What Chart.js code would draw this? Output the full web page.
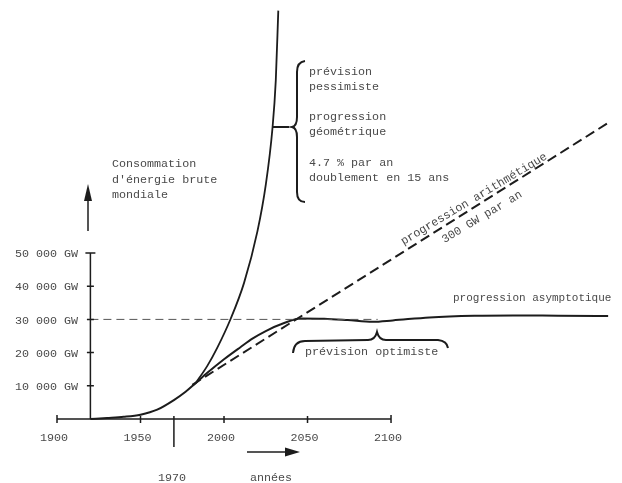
<!DOCTYPE html>
<html>
<head>
<meta charset="utf-8">
<script src="https://cdn.jsdelivr.net/npm/chart.js@4/dist/chart.umd.min.js"></script>
<style>
  html, body { margin: 0; padding: 0; background: #fff; }
  canvas { display: block; }
</style>
</head>
<body>
<canvas id="chart" width="622" height="483"></canvas>
<script>
// ===== Data =====
const commonYears = [1920, 1930, 1940, 1950, 1960, 1970, 1977, 1983];
const commonValues = [0, 300, 650, 1300, 2800, 5700, 8200, 10800];

// prévision pessimiste : progression géométrique
const pessYears = [1983, 1990, 1996, 2004, 2012, 2020, 2025, 2029, 2031, 2032.5];
const pessValues = [10800, 16000, 21500, 30200, 41000, 56500, 70500, 87500, 102000, 123000];

// progression asymptotique (prévision optimiste)
const asymYears = [1983, 1990, 2000, 2010, 2017, 2025, 2036, 2046, 2060, 2074, 2089, 2101, 2123, 2150, 2173, 2200, 2230];
const asymValues = [10800, 13900, 18000, 21700, 24200, 26500, 28900, 30300, 30200, 29800, 29300, 29700, 30600, 31100, 31200, 31100, 31000];

// progression arithmétique : 300 GW par an
const arithYears = [1981, 2231];
const arithValues = [10300, 89500];

// niveau de référence 30 000 GW
const refYears = [1920, 2092];
const refValues = [30000, 30000];

const xTicks = [1900, 1950, 2000, 2050, 2100];
const xTickLabels = ['1900', '1950', '2000', '2050', '2100'];
const yTicks = [10000, 20000, 30000, 40000, 50000];
const yTickLabels = ['10 000 GW', '20 000 GW', '30 000 GW', '40 000 GW', '50 000 GW'];
const axisYear = 1920;
const markYear = 1970;

const INK = '#1c1c1c';
const TEXT = '#4a4a4a';
const FONT = '11.7px "Liberation Mono", "DejaVu Sans Mono", monospace';

const toPoints = (xs, ys) => xs.map((x, i) => ({ x: x, y: ys[i] }));

// ===== Axes, braces and labels drawn on top =====
const figurePlugin = {
  id: 'figure',
  afterDatasetsDraw(chart) {
    const ctx = chart.ctx;
    const sx = chart.scales.x, sy = chart.scales.y;
    const px = v => sx.getPixelForValue(v);
    const py = v => sy.getPixelForValue(v);
    const x0 = px(axisYear), y0 = py(0);

    ctx.save();
    ctx.strokeStyle = INK;
    ctx.fillStyle = INK;
    ctx.lineWidth = 1.5;
    ctx.lineCap = 'butt';

    // x axis
    ctx.beginPath();
    ctx.moveTo(px(xTicks[0]), y0);
    ctx.lineTo(px(xTicks[xTicks.length - 1]), y0);
    xTicks.forEach((t, i) => {
      const end = i === 0 || i === xTicks.length - 1;
      ctx.moveTo(px(t), y0 - (end ? 4 : 3));
      ctx.lineTo(px(t), y0 + 4);
    });
    // 1970 mark
    ctx.moveTo(px(markYear), y0 - 3);
    ctx.lineTo(px(markYear), y0 + 28);
    ctx.stroke();

    // y axis
    ctx.beginPath();
    ctx.moveTo(x0, y0);
    ctx.lineTo(x0, py(yTicks[yTicks.length - 1]));
    yTicks.forEach((t, i) => {
      const w = i === yTicks.length - 1 ? 5 : 3.5;
      ctx.moveTo(x0 - w, py(t));
      ctx.lineTo(x0 + w, py(t));
    });
    ctx.stroke();

    // tick labels
    ctx.fillStyle = TEXT;
    ctx.font = FONT;
    ctx.textBaseline = 'middle';
    ctx.textAlign = 'center';
    xTicks.forEach((t, i) => ctx.fillText(xTickLabels[i], px(t) - 3, y0 + 19));
    ctx.textAlign = 'right';
    yTicks.forEach((t, i) => ctx.fillText(yTickLabels[i], 78, py(t) + 1));

    ctx.textAlign = 'center';
    ctx.fillText('1970', px(markYear) - 2, 478);
    ctx.fillText('années', 271, 478);

    // arrow "années"
    ctx.strokeStyle = INK;
    ctx.fillStyle = INK;
    ctx.lineWidth = 1.5;
    ctx.beginPath();
    ctx.moveTo(247, 452);
    ctx.lineTo(288, 452);
    ctx.stroke();
    ctx.beginPath();
    ctx.moveTo(300, 452);
    ctx.lineTo(285, 447.5);
    ctx.lineTo(285, 456.5);
    ctx.closePath();
    ctx.fill();

    // arrow y label
    ctx.beginPath();
    ctx.moveTo(88, 231);
    ctx.lineTo(88, 196);
    ctx.stroke();
    ctx.beginPath();
    ctx.moveTo(88, 184);
    ctx.lineTo(84, 201);
    ctx.lineTo(92, 201);
    ctx.closePath();
    ctx.fill();

    // y title
    ctx.fillStyle = TEXT;
    ctx.textAlign = 'left';
    ['Consommation', "d'énergie brute", 'mondiale'].forEach((s, i) =>
      ctx.fillText(s, 112, 164 + i * 15.5));

    // pessimiste brace + pointer
    ctx.strokeStyle = INK;
    ctx.lineWidth = 2;
    ctx.beginPath();
    ctx.moveTo(273, 127);
    ctx.lineTo(289, 127);
    ctx.stroke();
    ctx.beginPath();
    ctx.moveTo(305, 61);
    ctx.quadraticCurveTo(297, 62, 297, 72);
    ctx.lineTo(297, 117);
    ctx.quadraticCurveTo(297, 126, 292, 127);
    ctx.quadraticCurveTo(297, 128, 297, 137);
    ctx.lineTo(297, 192);
    ctx.quadraticCurveTo(297, 202, 305, 202);
    ctx.stroke();

    ctx.fillStyle = TEXT;
    const pessLines = [
      ['prévision', 72], ['pessimiste', 87],
      ['progression', 117], ['géométrique', 132],
      ['4.7 % par an', 163], ['doublement en 15 ans', 178]
    ];
    pessLines.forEach(([s, y]) => ctx.fillText(s, 309, y));

    // optimiste brace
    ctx.beginPath();
    ctx.moveTo(293, 353);
    ctx.quadraticCurveTo(294, 341, 305, 341);
    ctx.lineTo(368, 340);
    ctx.quadraticCurveTo(375, 340, 377, 332);
    ctx.quadraticCurveTo(379, 340, 386, 340);
    ctx.lineTo(438, 340);
    ctx.quadraticCurveTo(447, 341, 448, 348);
    ctx.stroke();
    ctx.fillText('prévision optimiste', 305, 352);

    ctx.font = '11px "Liberation Mono", "DejaVu Sans Mono", monospace';
    ctx.fillText('progression asymptotique', 453, 298);

    // rotated labels along the arithmetic line
    ctx.font = FONT;
    const ang = -31 * Math.PI / 180;
    ctx.textAlign = 'center';
    ctx.save();
    ctx.translate(474, 199);
    ctx.rotate(ang);
    ctx.fillText('progression arithmétique', 0, 0);
    ctx.restore();
    ctx.save();
    ctx.translate(482, 217);
    ctx.rotate(ang);
    ctx.fillText('300 GW par an', 0, 0);
    ctx.restore();

    ctx.restore();
  }
};

const baseLine = {
  showLine: true,
  pointRadius: 0,
  borderColor: INK,
  borderWidth: 1.8,
  cubicInterpolationMode: 'monotone',
  fill: false
};

new Chart(document.getElementById('chart'), {
  type: 'scatter',
  data: {
    datasets: [
      { ...baseLine, label: 'ref', data: toPoints(refYears, refValues), borderWidth: 1, borderColor: '#555', borderDash: [8, 5] },
      { ...baseLine, label: 'common', data: toPoints(commonYears, commonValues), borderWidth: 2 },
      { ...baseLine, label: 'pessimiste', data: toPoints(pessYears, pessValues) },
      { ...baseLine, label: 'asymptotique', data: toPoints(asymYears, asymValues), borderWidth: 2 },
      { ...baseLine, label: 'arithmétique', data: toPoints(arithYears, arithValues), borderWidth: 2, borderDash: [10, 5] }
    ]
  },
  options: {
    responsive: false,
    animation: false,
    layout: { padding: 0 },
    plugins: { legend: { display: false }, tooltip: { enabled: false } },
    scales: {
      x: { type: 'linear', min: 1865.87, max: 2238.3, display: false },
      y: { type: 'linear', min: -19277, max: 126205, display: false }
    }
  },
  plugins: [figurePlugin]
});
</script>
</body>
</html>
